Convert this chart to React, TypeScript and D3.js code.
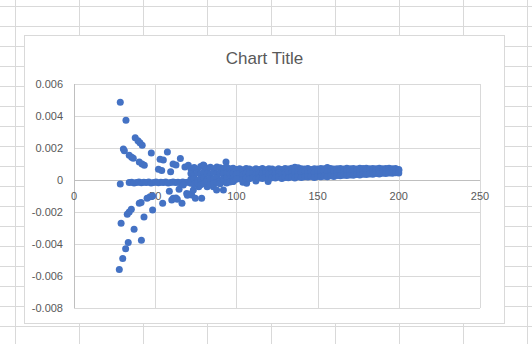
import React from "react";
import * as d3 from "d3";

const xTicks = [0, 50, 100, 150, 200, 250];
const yTicks = [-0.008, -0.006, -0.004, -0.002, 0, 0.002, 0.004, 0.006];
const yTickLabels = ["-0.008", "-0.006", "-0.004", "-0.002", "0", "0.002", "0.004", "0.006"];
const title = "Chart Title";

const upperBranches: [number, number][] = [
  [28.5, 0.00486], [32, 0.00373],
  [37.7, 0.00264], [39.4, 0.00246], [40.6, 0.00233], [42, 0.00217],
  [30.4, 0.00194], [31, 0.00183], [34, 0.00154], [35.5, 0.00142], [36.5, 0.00136],
  [40.2, 0.00112], [41.9, 0.001], [43.3, 0.00092],
  [47.6, 0.00169], [53, 0.0013], [55, 0.00125], [57.5, 0.00175],
  [52, 0.00067], [54, 0.0006], [59.5, 0.00052],
  [61, 0.001], [62.8, 0.00094], [65.5, 0.00135],
  [68.3, 0.00081], [70.4, 0.00092], [72.5, 0.00067], [79.6, 0.00094], [93.6, 0.00112],
];

const nearZeroRow: [number, number][] = [
  [28.5, -0.00025], [34, -0.00016], [35.5, -0.00014], [37, -0.00018], [38.5, -0.00015],
  [40, -0.00012], [41.5, -0.00017], [43, -0.00014], [44.5, -0.00016], [46, -0.00013],
  [47.5, -0.00018], [49, -0.00015], [50.5, -0.00012], [52, -0.00017], [53.5, -0.00014],
  [55, -0.00016], [56.5, -0.00013], [58, -0.00018], [59.5, -0.00015], [61, -0.00012],
  [62.5, -0.00016], [64, -0.00014], [65.5, -0.00017], [67, -0.00013], [68.5, -0.00016],
  [70, -0.00014],
];

const lowerBranches: [number, number][] = [
  [29, -0.0027], [27.9, -0.0056], [30, -0.0049], [31.8, -0.0043], [33.4, -0.0039],
  [32.8, -0.00214], [34, -0.002], [35.3, -0.00183],
  [37, -0.00308], [41.5, -0.00377],
  [40.2, -0.00146], [41.3, -0.0014], [43.1, -0.00231],
  [45, -0.00114], [46.8, -0.00104], [48.4, -0.001], [48.4, -0.00188],
  [54.6, -0.00146], [58.7, -0.0007], [60.2, -0.00125], [61.1, -0.00114], [62.8, -0.00112],
  [63.6, -0.0012], [64.7, -0.00058], [66.5, -0.00146], [67.3, -0.00031], [69.4, -0.00085],
  [69.8, -0.00096], [71.4, -0.00088], [72.5, -0.00094], [73.5, -0.00063], [74.7, -0.00114],
  [76.8, -0.00042], [78.6, -0.00114], [82, -0.00042], [85.8, -0.00042], [87.8, -0.00063],
  [92, -0.00063],
  [98, -0.0001], [104, -0.00014], [106.3, -0.0002], [112, -0.00006], [119.5, -0.0001],
];

const clusterX = [72, 74, 76, 78, 80, 82, 84, 86, 88, 90, 92, 94, 96, 98];
const clusterRow1 = [0.0007, 0.00078, 0.00066, 0.00084, 0.0009, 0.00074, 0.0008, 0.0007, 0.00082, 0.00076, 0.00072, 0.0008, 0.0007, 0.00074];
const clusterRow2 = [0.0004, 0.00032, 0.00046, 0.00038, 0.0005, 0.00042, 0.00036, 0.00048, 0.0004, 0.00044, 0.00038, 0.00046, 0.0004, 0.00042];
const clusterRow3 = [0.00004, 0.0001, -0.00002, 0.00008, 0.00014, 0.00002, 0.0001, 0.00006, 0.00012, 0, 0.00008, 0.00012, 0.00004, 0.0001];
const clusterRow4 = [-0.0002, -0.00026, -0.00018, -0.0003, -0.00022, -0.0001, -0.00028, -0.0002, -0.00016, -0.00024, -0.0001, -0.00018, -0.00012, -0.00008];

const bandX = [
  100, 102, 104, 106, 108, 110, 112, 114, 116, 118, 120, 122, 124, 126, 128, 130, 132,
  134, 136, 138, 140, 142, 144, 146, 148, 150, 152, 154, 156, 158, 160, 162, 164, 166,
  168, 170, 172, 174, 176, 178, 180, 182, 184, 186, 188, 190, 192, 194, 196, 198, 200,
];
const bandUpper = [
  0.00066, 0.0007, 0.00064, 0.00072, 0.00068, 0.00062, 0.0007, 0.00066, 0.00072, 0.00064,
  0.0007, 0.00068, 0.00062, 0.0007, 0.00066, 0.00072, 0.00068, 0.00074, 0.0008, 0.00076,
  0.0007, 0.00068, 0.00072, 0.00066, 0.0007, 0.00068, 0.00072, 0.0007, 0.00078, 0.00072,
  0.00068, 0.0007, 0.00072, 0.00068, 0.00074, 0.0007, 0.00072, 0.00068, 0.00074, 0.00072,
  0.00074, 0.0007, 0.00072, 0.0007, 0.00074, 0.0007, 0.00072, 0.00074, 0.0007, 0.00072, 0.00066,
];
const bandMid = [
  0.00036, 0.0004, 0.00034, 0.00042, 0.00038, 0.0004, 0.00036, 0.00044, 0.0004, 0.00042,
  0.00038, 0.00044, 0.0004, 0.00046, 0.00042, 0.00044, 0.00048, 0.00044, 0.0005, 0.00046,
  0.00048, 0.00052, 0.00048, 0.0005, 0.00046, 0.00052, 0.0005, 0.00054, 0.0005, 0.00052,
  0.00054, 0.0005, 0.00056, 0.00052, 0.00054, 0.00056, 0.00054, 0.00058, 0.00056, 0.00054,
  0.00058, 0.0006, 0.00056, 0.00058, 0.0006, 0.00058, 0.00062, 0.0006, 0.00058, 0.00062, 0.0006,
];
const bandLower = [
  0.00004, 0.0001, 0.00002, 0.00012, 0.00008, 0.00014, 0.00006, 0.00012, 0.0001, 0.00016,
  0.00008, 0.00014, 0.00012, 0.00018, 0.0001, 0.00016, 0.00014, 0.00018, 0.00012, 0.0002,
  0.00016, 0.0002, 0.00018, 0.00022, 0.00016, 0.00022, 0.0002, 0.00024, 0.0002, 0.00026,
  0.00022, 0.00028, 0.00026, 0.0003, 0.00028, 0.00032, 0.0003, 0.00034, 0.00032, 0.00036,
  0.00034, 0.00038, 0.00036, 0.0004, 0.00038, 0.00042, 0.0004, 0.00044, 0.00042, 0.00046, 0.00044,
];

const W = 532;
const H = 344;
const FONT = "'Liberation Sans', Arial, sans-serif";

export default function App() {
  const x = d3.scaleLinear().domain([0, 250]).range([74, 480]);
  const y = d3.scaleLinear().domain([-0.008, 0.006]).range([308, 84]);

  const pts: [number, number][] = [
    ...upperBranches,
    ...nearZeroRow,
    ...lowerBranches,
  ];
  clusterX.forEach((cx, i) => {
    pts.push([cx, clusterRow1[i]], [cx, clusterRow2[i]], [cx, clusterRow3[i]], [cx, clusterRow4[i]]);
  });
  bandX.forEach((bx, i) => {
    pts.push([bx, bandUpper[i]], [bx, bandMid[i]], [bx, bandLower[i]]);
  });

  const sheetCols = d3.range(15, W, 64);
  const sheetRows = d3.range(6, H, 20);

  return (
    <svg
      width={W}
      height={H}
      style={{ position: "absolute", left: 0, top: 0, background: "#fff" }}
    >
      {sheetCols.map((c) => (
        <line key={"c" + c} x1={c + 0.5} x2={c + 0.5} y1={0} y2={H} stroke="#d9d9d9" />
      ))}
      {sheetRows.map((r) => (
        <line key={"r" + r} x1={0} x2={W} y1={r + 0.5} y2={r + 0.5} stroke="#d9d9d9" />
      ))}
      <rect x={24.5} y={35.5} width={480} height={288} fill="#fff" stroke="#d9d9d9" />
      <text
        x={264.5}
        y={64}
        textAnchor="middle"
        fontFamily={FONT}
        fontSize={17}
        fill="#595959"
      >
        {title}
      </text>
      {yTicks.map((t) => (
        <line
          key={"gy" + t}
          x1={x(0)}
          x2={x(250)}
          y1={Math.round(y(t)) + 0.5}
          y2={Math.round(y(t)) + 0.5}
          stroke={t === 0 ? "#bfbfbf" : "#d9d9d9"}
        />
      ))}
      {xTicks.map((t) => (
        <line
          key={"gx" + t}
          x1={Math.round(x(t)) + 0.5}
          x2={Math.round(x(t)) + 0.5}
          y1={y(0.006)}
          y2={y(-0.008)}
          stroke={t === 0 ? "#bfbfbf" : "#d9d9d9"}
        />
      ))}
      {yTicks.map((t, i) => (
        <text
          key={"ly" + t}
          x={63}
          y={y(t) + 4}
          textAnchor="end"
          fontFamily={FONT}
          fontSize={11}
          fill="#595959"
        >
          {yTickLabels[i]}
        </text>
      ))}
      {xTicks.map((t) => (
        <text
          key={"lx" + t}
          x={x(t)}
          y={y(0) + 20}
          textAnchor="middle"
          fontFamily={FONT}
          fontSize={11}
          fill="#595959"
        >
          {t}
        </text>
      ))}
      {pts.map((p, i) => (
        <circle key={i} cx={x(p[0])} cy={y(p[1])} r={3.5} fill="#4472C4" />
      ))}
    </svg>
  );
}
